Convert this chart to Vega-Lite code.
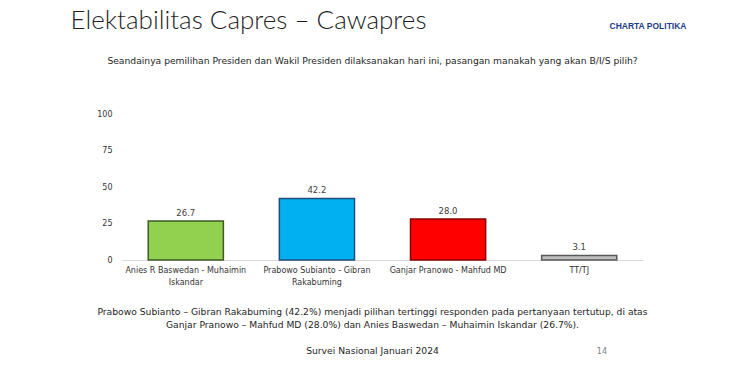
{
  "$schema": "https://vega.github.io/schema/vega-lite/v6.json",
  "width": 521,
  "height": 146,
  "autosize": {"type": "none"},
  "padding": {"left": 122, "top": 114, "right": 107, "bottom": 130},
  "background": "white",
  "title": {"text": "14", "orient": "bottom", "anchor": "end", "frame": "group", "dx": -36, "offset": -7, "fontSize": 8, "fontWeight": "normal", "color": "#808080", "font": "DejaVu Sans"},
  "data": {"values": [
    {"pasangan": "Anies R Baswedan - Muhaimin Iskandar", "nilai": 26.7},
    {"pasangan": "Prabowo Subianto - Gibran Rakabuming", "nilai": 42.2},
    {"pasangan": "Ganjar Pranowo - Mahfud MD", "nilai": 28.0},
    {"pasangan": "TT/TJ", "nilai": 3.1}
  ]},
  "layer": [
    {
      "mark": {"type": "bar", "strokeWidth": 1.5},
      "encoding": {
        "x": {
          "field": "pasangan", "type": "nominal", "sort": null,
          "scale": {"paddingInner": 0.427, "paddingOuter": 0.2},
          "axis": {
            "orient": "bottom", "labelAngle": 0,
            "labelExpr": "datum.value == 'Anies R Baswedan - Muhaimin Iskandar' ? ['Anies R Baswedan - Muhaimin', 'Iskandar'] : datum.value == 'Prabowo Subianto - Gibran Rakabuming' ? ['Prabowo Subianto - Gibran', 'Rakabuming'] : datum.label",
            "labelFontSize": 8, "labelFont": "DejaVu Sans", "labelColor": "#333333", "labelLineHeight": 12, "labelPadding": 6,
            "ticks": false, "domainColor": "#d9d9d9", "domainWidth": 1, "grid": false,
            "title": ["Prabowo Subianto – Gibran Rakabuming (42.2%) menjadi pilihan tertinggi responden pada pertanyaan tertutup, di atas", "Ganjar Pranowo – Mahfud MD (28.0%) dan Anies Baswedan – Muhaimin Iskandar (26.7%).", "\u2800", "Survei Nasional Januari 2024"],
            "titleX": 250, "titleY": 47, "titleAlign": "center", "titleBaseline": "top", "titleAngle": 0,
            "titleFont": "DejaVu Sans", "titleFontSize": 9.2, "titleFontWeight": "normal", "titleColor": "#262626", "titleLineHeight": 13
          }
        },
        "y": {
          "field": "nilai", "type": "quantitative",
          "scale": {"domain": [0, 100], "nice": false},
          "axis": {
            "orient": "left", "values": [0, 25, 50, 75, 100], "ticks": false, "domain": false, "grid": false,
            "labelFontSize": 8, "labelFont": "DejaVu Sans", "labelColor": "#333333", "labelPadding": 10,
            "title": "Elektabilitas Capres – Cawapres", "titleAngle": 0, "titleX": -52, "titleY": -94,
            "titleAlign": "left", "titleBaseline": "middle", "titleFont": "Lato", "titleFontSize": 26,
            "titleFontWeight": 300, "titleColor": "#1f1f1f"
          }
        },
        "fill": {
          "field": "pasangan", "type": "nominal",
          "scale": {"domain": ["Anies R Baswedan - Muhaimin Iskandar", "Prabowo Subianto - Gibran Rakabuming", "Ganjar Pranowo - Mahfud MD", "TT/TJ"], "range": ["#92D050", "#00B0F0", "#FF0000", "#BFBFBF"]},
          "legend": null
        },
        "stroke": {
          "field": "pasangan", "type": "nominal",
          "scale": {"domain": ["Anies R Baswedan - Muhaimin Iskandar", "Prabowo Subianto - Gibran Rakabuming", "Ganjar Pranowo - Mahfud MD", "TT/TJ"], "range": ["#3F5A25", "#1F4E79", "#8B0000", "#595959"]},
          "legend": null
        }
      }
    },
    {
      "mark": {"type": "text", "baseline": "bottom", "dy": -3, "fontSize": 8.5, "font": "DejaVu Sans", "color": "#404040"},
      "encoding": {
        "x": {
          "field": "pasangan", "type": "nominal", "sort": null,
          "axis": {
            "orient": "top", "labels": false, "ticks": false, "domain": false, "grid": false,
            "title": "Seandainya pemilihan Presiden dan Wakil Presiden dilaksanakan hari ini, pasangan manakah yang akan B/I/S pilih?",
            "titleX": 250, "titleY": -54, "titleAlign": "center", "titleBaseline": "middle", "titleAngle": 0,
            "titleFont": "DejaVu Sans", "titleFontSize": 9.2, "titleFontWeight": "normal", "titleColor": "#262626"
          }
        },
        "y": {
          "field": "nilai", "type": "quantitative",
          "axis": {
            "orient": "right", "labels": false, "ticks": false, "domain": false, "grid": false,
            "title": "CHARTA POLITIKA", "titleAngle": 0, "titleX": -34, "titleY": -89,
            "titleAlign": "left", "titleBaseline": "middle", "titleFont": "Liberation Sans", "titleFontSize": 8.5,
            "titleFontWeight": "bold", "titleColor": "#1E3C8C"
          }
        },
        "text": {"field": "nilai", "type": "quantitative", "format": ".1f"}
      }
    }
  ],
  "resolve": {"axis": {"x": "independent", "y": "independent"}},
  "config": {"view": {"stroke": null}}
}
